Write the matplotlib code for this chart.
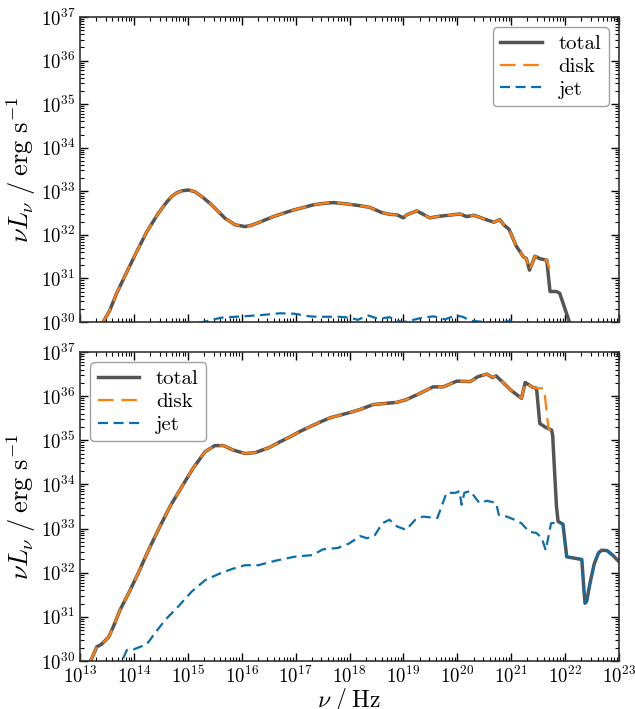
import numpy as np
import matplotlib
matplotlib.use("Agg")
import matplotlib.pyplot as plt
from matplotlib.ticker import LogLocator, NullFormatter

plt.rcParams['font.family'] = 'serif'
plt.rcParams['font.serif'] = ['cmr10', 'DejaVu Serif']
plt.rcParams['mathtext.fontset'] = 'cm'
plt.rcParams['axes.formatter.use_mathtext'] = True

# values, as log10(nu / Hz) and log10(nu L_nu / erg s^-1)
# ---- top panel ----
top_total_lognu = [13.43, 13.55, 13.68, 13.87, 14.05, 14.24, 14.45, 14.60, 14.70, 14.80,
                   14.89, 15.01, 15.13, 15.28, 15.44, 15.57, 15.69, 15.88, 16.06, 16.18,
                   16.31, 16.45, 16.59, 16.78, 16.96, 17.15, 17.33, 17.50, 17.70, 17.95,
                   18.19, 18.38, 18.60, 18.75, 18.88, 19.00, 19.06, 19.25, 19.34, 19.49,
                   19.68, 19.85, 20.05, 20.17, 20.31, 20.51, 20.68, 20.79, 20.86, 20.96,
                   21.09, 21.23, 21.28, 21.34, 21.44, 21.54, 21.66, 21.72, 21.84, 21.90,
                   22.08]
top_total_logL = [30.00, 30.26, 30.66, 31.15, 31.61, 32.07, 32.49, 32.74, 32.88, 32.97,
                  33.01, 33.03, 32.99, 32.86, 32.69, 32.53, 32.38, 32.23, 32.19, 32.22,
                  32.28, 32.35, 32.42, 32.50, 32.57, 32.63, 32.69, 32.72, 32.74, 32.71,
                  32.67, 32.63, 32.51, 32.47, 32.46, 32.39, 32.46, 32.55, 32.49, 32.39,
                  32.43, 32.45, 32.48, 32.42, 32.45, 32.36, 32.29, 32.35, 32.23, 32.13,
                  31.75, 31.49, 31.46, 31.19, 31.51, 31.45, 31.42, 30.70, 30.70, 30.66,
                  30.00]
top_disk_lognu = top_total_lognu[:57] + [21.71]
top_disk_logL = top_total_logL[:57] + [31.22]
top_jet_lognu = [15.20, 15.35, 15.62, 16.03, 16.37, 16.71, 16.98, 17.26, 17.40, 17.81,
                 18.01, 18.15, 18.35, 18.54, 18.74, 18.98, 19.08, 19.36, 19.56, 19.77,
                 19.97, 20.10, 20.24, 20.51, 20.72, 21.01]
top_jet_logL = [29.98, 30.02, 30.10, 30.13, 30.16, 30.20, 30.19, 30.13, 30.12, 30.12,
                30.10, 30.05, 30.15, 30.07, 30.11, 29.99, 30.02, 30.10, 30.13, 30.06,
                30.15, 30.12, 30.03, 30.00, 29.97, 30.03]

# ---- bottom panel ----
bot_total_lognu = [13.19, 13.22, 13.31, 13.40, 13.53, 13.62, 13.74, 13.90, 14.08, 14.27,
                   14.48, 14.67, 14.89, 15.10, 15.32, 15.50, 15.66, 15.84, 16.06, 16.25,
                   16.52, 16.70, 16.90, 17.08, 17.27, 17.45, 17.64, 18.01, 18.20, 18.44,
                   18.88, 19.05, 19.25, 19.55, 19.74, 19.99, 20.24, 20.38, 20.55, 20.65,
                   20.72, 20.99, 21.19, 21.26, 21.40, 21.47, 21.53, 21.63, 21.75, 21.77,
                   21.80, 21.84, 21.87, 21.96, 22.03, 22.31, 22.35, 22.37, 22.40, 22.46,
                   22.54, 22.62, 22.68, 22.78, 22.88, 23.00]
bot_total_logL = [30.00, 30.06, 30.32, 30.38, 30.54, 30.78, 31.15, 31.53, 31.99, 32.51,
                  33.04, 33.50, 33.95, 34.37, 34.74, 34.88, 34.88, 34.78, 34.70, 34.72,
                  34.84, 34.96, 35.08, 35.20, 35.31, 35.41, 35.51, 35.63, 35.70, 35.81,
                  35.86, 35.92, 36.03, 36.21, 36.21, 36.34, 36.33, 36.44, 36.50, 36.42,
                  36.46, 36.14, 35.95, 36.31, 36.20, 36.18, 35.38, 35.30, 35.23, 35.10,
                  34.40, 33.50, 33.16, 33.10, 32.36, 32.30, 31.60, 31.31, 31.35, 31.75,
                  32.20, 32.45, 32.51, 32.50, 32.40, 32.25]
bot_disk_lognu = bot_total_lognu[:46] + [21.61, 21.69, 21.73]
bot_disk_logL = bot_total_logL[:46] + [36.18, 35.27, 35.22]
bot_jet_lognu = [13.80, 13.87, 13.99, 14.24, 14.39, 14.58, 14.82, 15.07, 15.32, 15.57,
                 15.81, 16.06, 16.31, 16.62, 16.97, 17.31, 17.51, 17.78, 17.99, 18.20,
                 18.33, 18.47, 18.61, 18.74, 18.88, 19.05, 19.22, 19.36, 19.63, 19.80,
                 19.97, 20.04, 20.08, 20.13, 20.24, 20.31, 20.41, 20.55, 20.72, 20.77,
                 20.92, 21.06, 21.19, 21.33, 21.47, 21.57, 21.64, 21.74, 21.87, 21.96,
                 22.03, 22.31, 22.35, 22.37, 22.40, 22.46, 22.54, 22.62, 22.68, 22.78,
                 22.88, 23.00]
bot_jet_logL = [30.06, 30.25, 30.26, 30.38, 30.63, 30.93, 31.23, 31.57, 31.83, 31.97,
                32.08, 32.17, 32.17, 32.27, 32.36, 32.40, 32.53, 32.56, 32.66, 32.83,
                32.78, 32.85, 33.12, 33.20, 33.05, 32.97, 33.20, 33.27, 33.24, 33.81,
                33.81, 33.85, 33.54, 33.81, 33.85, 33.74, 33.58, 33.63, 33.58, 33.31,
                33.27, 33.20, 33.12, 32.93, 32.90, 32.78, 32.51, 33.12, 33.14, 33.10,
                32.36, 32.30, 31.60, 31.31, 31.35, 31.75, 32.20, 32.45, 32.51, 32.50,
                32.40, 32.25]

c_total = '#555555'
c_disk = '#ff7f0e'
c_jet = '#0a6eaa'


def pw(a):
    return 10.0 ** np.asarray(a)


fig = plt.figure(figsize=(6.35, 7.09), dpi=100)
ax1 = fig.add_axes([80 / 635, 1 - 322 / 709, 539 / 635, 305 / 709])
ax2 = fig.add_axes([80 / 635, 1 - 661 / 709, 539 / 635, 309 / 709], sharex=ax1)

panels = [
    (ax1, top_total_lognu, top_total_logL, top_disk_lognu, top_disk_logL,
     top_jet_lognu, top_jet_logL, 'upper right'),
    (ax2, bot_total_lognu, bot_total_logL, bot_disk_lognu, bot_disk_logL,
     bot_jet_lognu, bot_jet_logL, 'upper left'),
]

for ax, tx, ty, dx, dy, jx, jy, loc in panels:
    ax.plot(pw(tx), pw(ty), color=c_total, lw=2.5, label='total')
    ax.plot(pw(dx), pw(dy), color=c_disk, lw=1.6, ls=(0, (7, 3.5)), label='disk')
    ax.plot(pw(jx), pw(jy), color=c_jet, lw=1.6, ls=(0, (4.5, 2.5)), label='jet')
    ax.set_xscale('log')
    ax.set_yscale('log')
    ax.set_xlim(1e13, 1e23)
    ax.set_ylim(1e30, 1e37)
    ax.xaxis.set_major_locator(LogLocator(base=10, numticks=20))
    ax.yaxis.set_major_locator(LogLocator(base=10, numticks=20))
    ax.xaxis.set_minor_locator(LogLocator(base=10, subs=np.arange(2, 10), numticks=100))
    ax.yaxis.set_minor_locator(LogLocator(base=10, subs=np.arange(2, 10), numticks=100))
    ax.xaxis.set_minor_formatter(NullFormatter())
    ax.yaxis.set_minor_formatter(NullFormatter())
    ax.tick_params(which='both', direction='in', top=True, right=True, labelsize=13.5)
    ax.tick_params(which='major', length=6, width=1)
    ax.tick_params(which='minor', length=3, width=0.8)
    for s in ax.spines.values():
        s.set_color('#333333')
        s.set_linewidth(1.2)
    ax.set_ylabel(r'$\nu L_\nu\;/\;\mathrm{erg\ s^{-1}}$', fontsize=19, labelpad=2)
    leg = ax.legend(loc=loc, fontsize=15, handlelength=2.0, borderpad=0.35,
                    labelspacing=0.2, handletextpad=0.8, fancybox=True)
    leg.get_frame().set_edgecolor('#888888')

plt.setp(ax1.get_xticklabels(), visible=False)
ax2.set_xlabel(r'$\nu\;/\;\mathrm{Hz}$', fontsize=17, labelpad=-1)

fig.savefig('out.png', dpi=100)
